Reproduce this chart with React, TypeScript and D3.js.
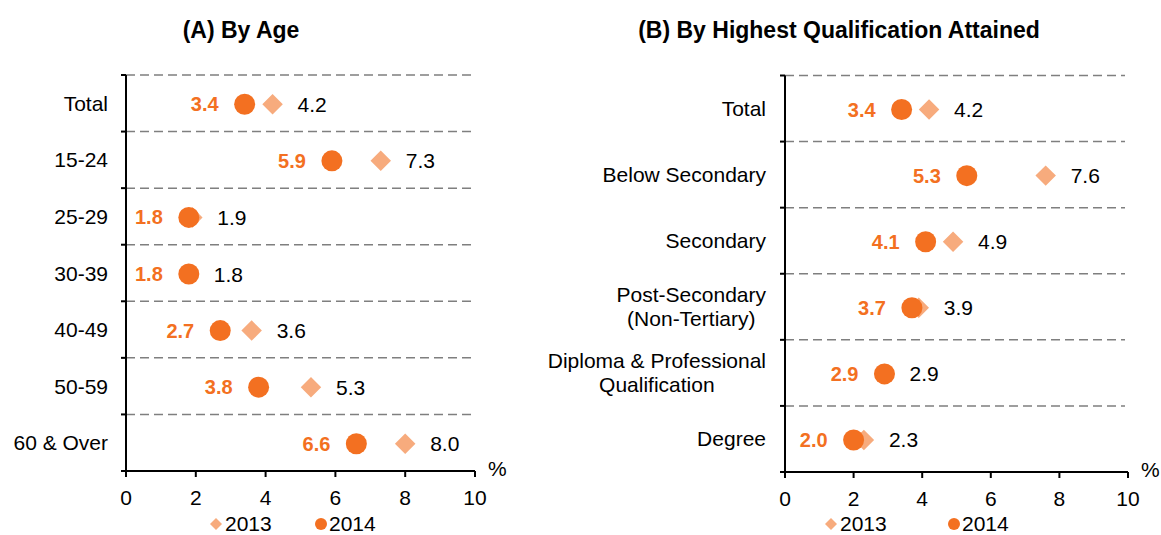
import React from 'react';
import * as d3 from 'd3';

const ageCats = ['Total', '15-24', '25-29', '30-39', '40-49', '50-59', '60 & Over'];
const age2013 = [4.2, 7.3, 1.9, 1.8, 3.6, 5.3, 8.0];
const age2014 = [3.4, 5.9, 1.8, 1.8, 2.7, 3.8, 6.6];

const qualCats = ['Total', 'Below Secondary', 'Secondary', 'Post-Secondary\n(Non-Tertiary)', 'Diploma & Professional\nQualification', 'Degree'];
const qual2013 = [4.2, 7.6, 4.9, 3.9, 2.9, 2.3];
const qual2014 = [3.4, 5.3, 4.1, 3.7, 2.9, 2.0];

const xTicks = [0, 2, 4, 6, 8, 10];
const years = ['2013', '2014'];

const FONT = "'Liberation Sans', Arial, sans-serif";
const C14 = '#F37021';
const C13 = '#F7AB7D';

// text width for centering the two-line labels
let ctx: CanvasRenderingContext2D | null = null;
const measure = (s: string, size: number) => {
  if (!ctx) ctx = document.createElement('canvas').getContext('2d');
  if (!ctx) return s.length * size * 0.5;
  ctx.font = `${size}px ${FONT}`;
  return ctx.measureText(s).width;
};

const diamond = d3.symbol(d3.symbolSquare, 210)();
const smallDiamond = d3.symbol(d3.symbolSquare, 72)();

function Panel({ cats, v13, v14, left, right, top, bottom, labelRight, title, titleX, legend13, legend14 }) {
  const x = d3.scaleLinear().domain([0, 10]).range([left, right]);
  const y = d3.scaleBand().domain(cats.map((c, i) => String(i))).range([top, bottom]);
  const bw = y.bandwidth();
  const legY = 524;

  return (
    <g fontFamily={FONT}>
      <text x={titleX} y={38} textAnchor="middle" fontWeight="bold" fontSize={23}>{title}</text>

      {/* dashed row separators */}
      {cats.map((c, i) => (
        <line key={'d' + i} x1={left} x2={right - 3} y1={y(String(i))} y2={y(String(i))}
          stroke="#7f7f7f" strokeWidth={1.5} strokeDasharray="9,5" />
      ))}

      {/* y axis */}
      <line x1={left} x2={left} y1={top} y2={bottom} stroke="#000" strokeWidth={2} />
      {cats.map((c, i) => (
        <line key={'yt' + i} x1={left - 5} x2={left} y1={y(String(i))} y2={y(String(i))} stroke="#000" strokeWidth={2} />
      ))}
      <line x1={left - 5} x2={left} y1={bottom} y2={bottom} stroke="#000" strokeWidth={2} />

      {/* x axis */}
      <line x1={left} x2={right} y1={bottom} y2={bottom} stroke="#000" strokeWidth={2} />
      {xTicks.map(t => (
        <g key={'xt' + t}>
          <line x1={x(t)} x2={x(t)} y1={bottom} y2={bottom + 6} stroke="#000" strokeWidth={2} />
          <text x={x(t)} y={bottom + 34} textAnchor="middle" fontSize={21}>{t}</text>
        </g>
      ))}
      <text x={right + 13} y={bottom + 5} fontSize={21}>%</text>

      {/* category labels */}
      {cats.map((c, i) => {
        const cy = y(String(i)) + bw / 2;
        const lines = c.split('\n');
        if (lines.length === 1) {
          return <text key={'c' + i} x={labelRight} y={cy + 7.5} textAnchor="end" fontSize={21}>{c}</text>;
        }
        const w = Math.max(...lines.map(l => measure(l, 21)));
        const cx = labelRight - w / 2;
        return (
          <text key={'c' + i} textAnchor="middle" fontSize={21}>
            {lines.map((l, j) => (
              <tspan key={j} x={cx} y={cy + 7.5 + (j - (lines.length - 1) / 2) * 24}>{l}</tspan>
            ))}
          </text>
        );
      })}

      {/* markers: 2013 diamond under 2014 circle */}
      {cats.map((c, i) => {
        const cy = y(String(i)) + bw / 2 + 1;
        return (
          <g key={'m' + i}>
            <path d={diamond} transform={`translate(${x(v13[i])},${cy}) rotate(45)`} fill={C13} />
            <circle cx={x(v14[i])} cy={cy} r={10.5} fill={C14} />
            <text x={x(v14[i]) - 26} y={cy + 7} textAnchor="end" fontSize={20} fontWeight="bold" fill={C14}>{v14[i].toFixed(1)}</text>
            <text x={x(v13[i]) + 25} y={cy + 7.5} fontSize={21}>{v13[i].toFixed(1)}</text>
          </g>
        );
      })}

      {/* legend */}
      <path d={smallDiamond} transform={`translate(${legend13},${legY}) rotate(45)`} fill={C13} />
      <text x={legend13 + 9} y={legY + 7} fontSize={21}>{years[0]}</text>
      <circle cx={legend14} cy={legY} r={6} fill={C14} />
      <text x={legend14 + 8} y={legY + 7} fontSize={21}>{years[1]}</text>
    </g>
  );
}

export default function App() {
  return (
    <svg width={1161} height={535} style={{ position: 'absolute', left: 0, top: 0, background: '#fff' }}>
      <Panel cats={ageCats} v13={age2013} v14={age2014} left={126} right={475} top={75} bottom={471}
        labelRight={108} title="(A) By Age" titleX={241} legend13={216} legend14={321} />
      <Panel cats={qualCats} v13={qual2013} v14={qual2014} left={785} right={1128} top={75.5} bottom={472}
        labelRight={766} title="(B) By Highest Qualification Attained" titleX={839} legend13={831} legend14={954} />
    </svg>
  );
}
